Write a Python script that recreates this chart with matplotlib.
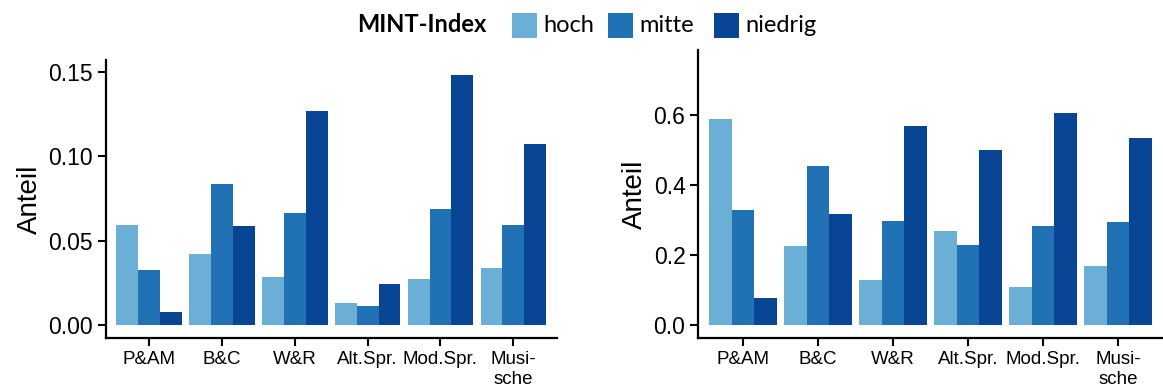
import numpy as np
import matplotlib
matplotlib.use("Agg")
import matplotlib.pyplot as plt
from matplotlib.patches import Rectangle

# Data
categories = ["P&AM", "B&C", "W&R", "Alt.Spr.", "Mod.Spr.", "Musi-\nsche"]
groups = ["hoch", "mitte", "niedrig"]

left_hoch = [0.0593, 0.0423, 0.0288, 0.0135, 0.0276, 0.0341]
left_mitte = [0.0329, 0.0834, 0.0664, 0.0117, 0.0687, 0.0593]
left_niedrig = [0.0082, 0.0588, 0.1269, 0.0247, 0.1480, 0.1075]

right_hoch = [0.591, 0.227, 0.130, 0.270, 0.110, 0.170]
right_mitte = [0.328, 0.454, 0.299, 0.230, 0.282, 0.296]
right_niedrig = [0.078, 0.319, 0.571, 0.500, 0.608, 0.534]

colors = ["#6BAED6", "#2171B5", "#084594"]

sans = ["Liberation Sans", "DejaVu Sans"]
plt.rcParams["font.family"] = sans

W, H = 1163, 392
fig = plt.figure(figsize=(W / 100, H / 100), dpi=100)


def px_axes(x0, x1, y0, y1):
    # pixel box (top-left origin) -> figure fraction
    return fig.add_axes([x0 / W, 1 - y1 / H, (x1 - x0) / W, (y1 - y0) / H])


def draw_panel(ax, series, ylim, yticks, fmt):
    x = np.arange(1, len(categories) + 1)
    width = 0.3
    for i, (vals, col) in enumerate(zip(series, colors)):
        ax.bar(x + (i - 1) * width, vals, width=width, color=col, linewidth=0)
    ax.set_xlim(0.4, 6.6)
    ax.set_ylim(*ylim)
    ax.set_xticks(x)
    ax.set_xticklabels(categories, fontsize=13.5, linespacing=1.25, family=sans)
    ax.set_yticks(yticks)
    ax.set_yticklabels([fmt.format(v) for v in yticks], fontsize=16.5, family=sans)
    ax.set_ylabel("Anteil", fontsize=20, labelpad=4, family=sans)
    for s in ["top", "right"]:
        ax.spines[s].set_visible(False)
    for s in ["left", "bottom"]:
        ax.spines[s].set_linewidth(1.6)
    ax.tick_params(axis="both", direction="out", length=6, width=1.5, colors="black")
    ax.tick_params(axis="x", pad=3)
    ax.tick_params(axis="y", pad=3)


ax1 = px_axes(105.5, 557, 60, 338)
draw_panel(ax1, [left_hoch, left_mitte, left_niedrig],
           (-0.0074, 0.1569), [0.0, 0.05, 0.10, 0.15], "{:.2f}")

ax2 = px_axes(698, 1163, 50, 338)
draw_panel(ax2, [right_hoch, right_mitte, right_niedrig],
           (-0.0375, 0.7875), [0.0, 0.2, 0.4, 0.6], "{:.1f}")

# Legend across the top
leg_font = ["Lato", "DejaVu Sans"]
fig.text(357 / W, 1 - 25 / H, "MINT-Index", family=leg_font, fontsize=17,
         fontweight="bold", va="center", ha="left")
box_x = [512, 608, 714]
for bx, lab, col in zip(box_x, groups, colors):
    fig.add_artist(Rectangle((bx / W, 1 - 38 / H), 25 / W, 25 / H,
                             transform=fig.transFigure, color=col, lw=0))
    fig.text((bx + 31) / W, 1 - 25 / H, lab, family=leg_font, fontsize=17,
             va="center", ha="left")

fig.savefig("out.png", dpi=100)
